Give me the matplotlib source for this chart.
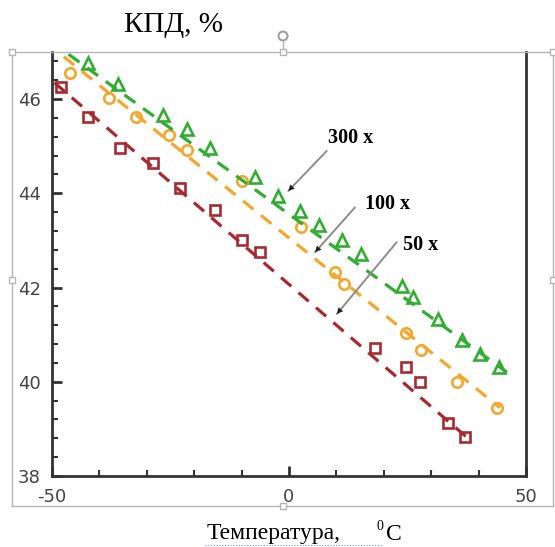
import matplotlib
matplotlib.use("Agg")
import matplotlib.pyplot as plt
from matplotlib.lines import Line2D
from matplotlib.patches import Rectangle, Circle

plt.rcParams["axes.unicode_minus"] = False

# ---- data ----
t_300 = [-42.5, -36.0, -26.5, -21.6, -16.7, -7.2, -2.3, 2.3, 6.3, 11.1, 15.2, 23.8, 26.2, 31.5, 36.4, 40.3, 44.2]
eff_300 = [46.76, 46.32, 45.67, 45.36, 44.96, 44.35, 43.95, 43.63, 43.33, 43.02, 42.71, 42.03, 41.81, 41.34, 40.88, 40.60, 40.31]

t_100 = [-46.2, -38.0, -32.2, -25.3, -21.5, -10.0, 2.5, 9.6, 11.7, 24.7, 27.8, 35.4, 43.8]
eff_100 = [46.56, 46.02, 45.62, 45.24, 44.91, 44.27, 43.28, 42.34, 42.08, 41.03, 40.67, 40.00, 39.44]

t_50 = [-48.1, -42.3, -35.7, -28.6, -23.0, -15.6, -10.0, -6.1, 18.1, 24.7, 27.6, 33.6, 37.1]
eff_50 = [46.26, 45.61, 44.97, 44.65, 44.12, 43.64, 43.02, 42.75, 40.71, 40.31, 40.00, 39.12, 38.83]

# dashed trend lines (end points)
t_fit_300 = [-46.5, 46.0]
eff_fit_300 = [46.95, 40.20]
t_fit_100 = [-47.5, 44.5]
eff_fit_100 = [46.90, 39.45]
t_fit_50 = [-49.5, 38.0]
eff_fit_50 = [46.35, 38.78]

series_labels = ["300 x", "100 x", "50 x"]
x_ticks = [-50, 0, 50]
y_ticks = [38, 40, 42, 44, 46]

# ---- figure ----
W, H = 555, 547
fig = plt.figure(figsize=(W / 100, H / 100), dpi=100)
fig.patch.set_facecolor("white")

def fx(px):
    return px / W

def fy(py):
    return 1 - py / H

ax = fig.add_axes([fx(52), fy(476), fx(526) - fx(52), fy(52) - fy(476)])
ax.set_xlim(-50, 50)
ax.set_ylim(38, 47)

green = "#2fae2f"
orange = "#f5a62c"
red = "#a82a30"

ax.plot(t_300, eff_300, linestyle="none", marker="^", markersize=8.5, markerfacecolor="none",
        markeredgecolor=green, markeredgewidth=1.9, zorder=3)
ax.plot(t_100, eff_100, linestyle="none", marker="o", markersize=7.5, markerfacecolor="none",
        markeredgecolor=orange, markeredgewidth=1.9, zorder=3)
ax.plot(t_50, eff_50, linestyle="none", marker="s", markersize=6.5, markerfacecolor="none",
        markeredgecolor=red, markeredgewidth=1.9, zorder=3)

dash = (0, (4.2, 3.0))
ax.plot(t_fit_300, eff_fit_300, color=green, lw=2.3, linestyle=dash, zorder=4)
ax.plot(t_fit_100, eff_fit_100, color=orange, lw=2.3, linestyle=dash, zorder=4)
ax.plot(t_fit_50, eff_fit_50, color=red, lw=2.3, linestyle=dash, zorder=4)

# axes styling
for side in ["left", "bottom", "right"]:
    ax.spines[side].set_color("#333333")
    ax.spines[side].set_linewidth(2.0)
ax.spines["top"].set_visible(False)

ax.set_xticks(x_ticks)
ax.set_xticks(list(range(-40, 50, 10)), minor=True)
ax.set_yticks(y_ticks)
ax.set_yticks([38 + 0.4 * i for i in range(0, 23)], minor=True)
ax.tick_params(axis="both", which="major", direction="in", length=7, width=2, color="#333333",
               labelsize=13, labelcolor="#444444")
ax.tick_params(axis="both", which="minor", direction="in", length=4, width=1.5, color="#333333")
ax.tick_params(axis="y", which="both", right=False, pad=8)
ax.tick_params(axis="x", which="both", top=False, pad=9)
for lbl in ax.get_xticklabels() + ax.get_yticklabels():
    lbl.set_fontfamily("DejaVu Sans")

# annotations: gray shaft with small black head
ann = [
    (series_labels[0], (8.2, 45.17), (7.95, 44.90), (-0.15, 44.05)),
    (series_labels[1], (16.0, 43.78), (13.9, 43.70), (5.5, 42.75)),
    (series_labels[2], (24.1, 42.91), (22.7, 42.96), (10.1, 41.44)),
]
for text, tpos, start, tip in ann:
    ax.annotate("", xy=tip, xytext=start,
                arrowprops=dict(arrowstyle="-", color="#8c8c8c", lw=1.4, shrinkA=0, shrinkB=0), zorder=5)
    hx = tip[0] + (start[0] - tip[0]) * 0.2
    hy = tip[1] + (start[1] - tip[1]) * 0.2
    ax.annotate("", xy=tip, xytext=(hx, hy),
                arrowprops=dict(arrowstyle="-|>", color="#222222", lw=0.01, mutation_scale=11,
                                shrinkA=0, shrinkB=0), zorder=6)
    ax.text(tpos[0], tpos[1], text, fontsize=14.5, fontweight="bold", family="Liberation Serif",
            ha="left", va="center", color="black", zorder=7)

# title and x label
fig.text(fx(174), fy(25), "КПД, %", fontsize=21, family="Liberation Serif", ha="center", va="center")
fig.text(fx(207), fy(534), "Температура,", fontsize=17, family="Liberation Serif", ha="left", va="center")
fig.text(fx(377), fy(526), "0", fontsize=10, family="Liberation Serif", ha="left", va="center")
fig.text(fx(386), fy(534), "С", fontsize=17, family="Liberation Serif", ha="left", va="center")
fig.add_artist(Line2D([fx(205), fx(382)], [fy(545), fy(545)], color="#7a8cff", lw=0.8,
                      linestyle=(0, (1, 1.5))))

# screenshot frame decorations (text-box border and handles)
frame_col = "#b5b5b5"
fig.add_artist(Line2D([fx(12), fx(553)], [fy(52), fy(52)], color=frame_col, lw=1.0))
fig.add_artist(Line2D([fx(12), fx(553)], [fy(506), fy(506)], color=frame_col, lw=1.0))
fig.add_artist(Line2D([fx(12), fx(12)], [fy(52), fy(506)], color=frame_col, lw=1.0))
fig.add_artist(Line2D([fx(553), fx(553)], [fy(52), fy(506)], color=frame_col, lw=1.0))
fig.add_artist(Line2D([fx(283), fx(283)], [fy(40), fy(52)], color=frame_col, lw=1.0))
for (hx, hy) in [(12, 52), (283, 52), (553, 52), (12, 280), (553, 280), (283, 506)]:
    fig.add_artist(Rectangle((fx(hx - 3), fy(hy + 3)), 6 / W, 6 / H, facecolor="white",
                             edgecolor=frame_col, lw=1.0, transform=fig.transFigure, zorder=10))
fig.add_artist(Circle((fx(283), fy(36)), 4.5 / W, facecolor="white", edgecolor="#a0a0a0", lw=1.5,
                      transform=fig.transFigure, zorder=10))

fig.savefig("out.png", dpi=100, facecolor="white")
